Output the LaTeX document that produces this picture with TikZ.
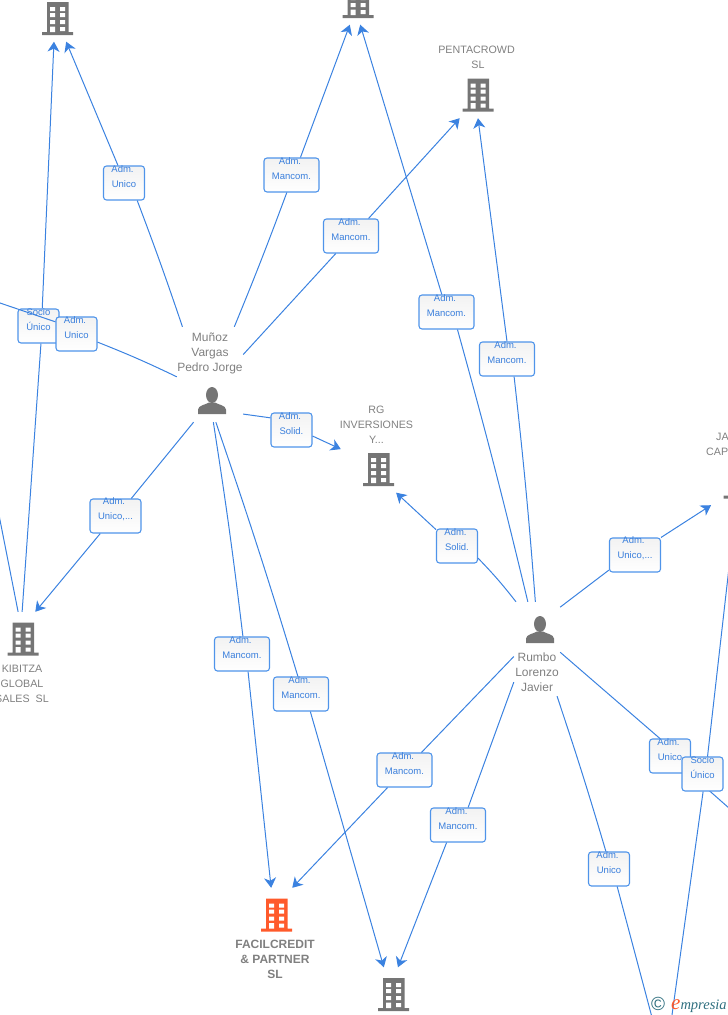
\documentclass[tikz,border=0pt]{standalone}
\usepackage{fontspec}
\setmainfont{Liberation Sans}
\newfontfamily\brandfont{Liberation Serif}
\usetikzlibrary{arrows.meta}

\definecolor{linkblue}{HTML}{3B82E0}
\definecolor{admborder}{HTML}{4F94EA}
\definecolor{admtext}{HTML}{3A7FDC}
\definecolor{nametext}{HTML}{808080}
\definecolor{icongray}{HTML}{757575}
\definecolor{iconorange}{HTML}{FF5A2B}
\definecolor{brandteal}{HTML}{2F6F7F}

\def\admword{Adm.\hspace*{3pt}}

\tikzset{
    link/.style={linkblue, line width=1pt},
    linkto/.style={link, -{Stealth[length=10pt,width=12pt,inset=3pt]}},
    adm/.style={draw=admborder, line width=1.1pt, rounded corners=3pt, top color=black!5, bottom color=white,
        text=admtext, align=center, font=\fontsize{9.5}{15}\selectfont, minimum height=34pt, inner sep=0pt,
        text height=9pt},
    admnarrow/.style={adm, minimum width=41pt},
    admmid/.style={adm, minimum width=51pt},
    admwide/.style={adm, minimum width=55pt},
    hub/.style={minimum width=60pt, minimum height=50pt, inner sep=0pt},
    corpname/.style={text=nametext, align=center, font=\fontsize{10.7}{15}\selectfont, inner sep=0pt},
    personname/.style={text=nametext, align=center, font=\fontsize{12}{15}\selectfont, inner sep=0pt},
    pics/bldg/.style={code={
        \fill[#1] (-10.5,-14.5) rectangle (11,15.5) (-15.5,15.5) rectangle (15.5,18.5);
        \fill[white] (-7.5,-9.5) rectangle (-2.5,-5.5) (2.5,-9.5) rectangle (7.5,-5.5)
            (-7.5,-3.5) rectangle (-2.5,0.5) (2.5,-3.5) rectangle (7.5,0.5)
            (-7.5,3.5) rectangle (-2.5,7.5) (2.5,3.5) rectangle (7.5,7.5)
            (-7.5,10) rectangle (-2.5,15.5) (2.5,10.5) rectangle (7.5,14.5);
    }},
    pics/person/.style={code={
        \fill[icongray] (0,-5.5) ellipse (6 and 8);
        \fill[icongray] (-14,13.5) -- (-14,9) .. controls (-14,5) and (-6,4) .. (-3,2) -- (3,2)
            .. controls (6,4) and (14,5) .. (14,9) -- (14,13.5) -- cycle;
    }}
}

\begin{document}
\begin{tikzpicture}[x=1pt,y=-1pt]
    \useasboundingbox (0,0) rectangle (728,1015);

    %% Companies
    \node [hub] (topleft) at (57.5,16.5) {};
    \node [hub] (topmid) at (358,-0.5) {};
    \node [hub] (penta) at (478,93) {};
    \node [hub, minimum width=75pt] (rginv) at (378.5,467.5) {};
    \node [hub] (jacap) at (739,480) {};
    \node [hub] (kibitza) at (23,637) {};
    \node [hub] (facil) at (276.5,913) {};
    \node [hub] (botmid) at (393.5,992.5) {};
    \pic at (topleft) {bldg=icongray};
    \pic at (topmid) {bldg=icongray};
    \pic at (penta) {bldg=icongray};
    \pic at (rginv) {bldg=icongray};
    \pic at (jacap) {bldg=icongray};
    \pic at (kibitza) {bldg=icongray};
    \pic at (facil) {bldg=iconorange};
    \pic at (botmid) {bldg=icongray};
    \node [corpname] (pentaname) at (476.5,57) {PENTACROWD\\\hspace*{3pt}SL};
    \node [corpname] (rgname) at (376.5,424.5) {RG\\INVERSIONES\\Y...};
    \node [corpname, align=left, anchor=west] (janame) at (706,444) {\hspace*{10pt}JA\\CAP};
    \node [corpname] (kibitzaname) at (22,683.5) {KIBITZA\\GLOBAL\\SALES\ \ SL};
    \node [corpname, font=\fontsize{12}{15}\selectfont\bfseries] (facilname) at (275,959) {FACILCREDIT\\\& PARTNER\\SL};

    %% People
    \node [minimum width=66pt, minimum height=95pt, inner sep=0pt] (munoz) at (210,374.5) {};
    \node [minimum width=46pt, minimum height=94pt, inner sep=0pt] (rumbo) at (537,649) {};
    \pic at (212,400.5) {person};
    \pic at (540,629.5) {person};
    \node [personname] (munozname) at (210,353.5) {Muñoz\\Vargas\\Pedro Jorge};
    \node [personname] (rumboname) at (537,672.5) {Rumbo\\Lorenzo\\Javier};

    %% Ends outside the page
    \coordinate (offleft) at (-10,299.6);
    \coordinate (offwest) at (-1,515);
    \coordinate (offeast) at (738,816);
    \coordinate (offnorth) at (731,550);
    \coordinate (offsouth) at (652.7,1020);
    \coordinate (offsouthb) at (671.3,1020);

    %% Muñoz
    \node [admnarrow] (munozcorner) at (124,183) {\admword\\Unico};
    \path [link] (munoz.120) edge [bend right=1] (munozcorner.307);
    \path [linkto] (munozcorner.109) edge (topleft.289);

    \node [admwide] (munoztop) at (291.5,175) {\admword\\Mancom.};
    \path [link] (munoz.63) edge [bend right=1] (munoztop.255);
    \path [linkto] (munoztop.63) edge (topmid.252);

    \node [admwide] (munozpenta) at (351,236) {\admword\\Mancom.};
    \path [link] (munoz.31) edge (munozpenta.229);
    \path [linkto] (munozpenta.45) edge (penta.234);

    \node [admnarrow] (socioleft) at (38.5,326) {Socio\\Único};
    \path [linkto] (socioleft.78) edge (topleft.262);
    \path [link] (socioleft.278) edge (kibitza.92);
    \path [link] (kibitza.101) edge (offwest);

    \node [admnarrow] (munozleft) at (76.5,334) {\admword\\Unico};
    \path [link] (munoz.184) edge [bend right=2] (munozleft);
    \path [link] (munozleft.150) edge (offleft);

    \node [admmid] (munozkib) at (115.5,516) {\admword\\Unico,...};
    \path [link] (munoz.251) edge (munozkib.48);
    \path [linkto] (munozkib.229) edge (kibitza.64);

    \node [admnarrow] (munozrg) at (291.5,430) {\admword\\Solid.};
    \path [link] (munoz.310) edge (munozrg.150);
    \path [linkto] (munozrg.344) edge (rginv.154);

    \node [admwide] (munozfacil) at (242,654) {\admword\\Mancom.};
    \path [link] (munoz.274) edge [bend left=1] (munozfacil.87);
    \path [linkto] (munozfacil.289) edge (facil.102);

    \node [admwide] (munozbot) at (301,694) {\admword\\Mancom.};
    \path [link] (munoz.277) edge [bend left=1] (munozbot.100);
    \path [linkto] (munozbot.298) edge (botmid.111);

    %% Rumbo
    \node [admnarrow] (rumborg) at (457,546) {\admword\\Solid.};
    \path [link] (rumbo.114) edge [bend right=3] (rumborg.330);
    \path [linkto] (rumborg.142) edge (rginv.305);

    \node [admwide] (rumbotop) at (446.5,312) {\admword\\Mancom.};
    \path [link] (rumbo.101) edge [bend right=1] (rumbotop.302);
    \path [linkto] (rumbotop.105) edge (topmid.275);

    \node [admwide] (rumbopenta) at (507,359) {\admword\\Mancom.};
    \path [link] (rumbo.92) edge [bend right=1] (rumbopenta.292);
    \path [linkto] (rumbopenta.90) edge (penta.270);

    \node [admmid] (rumbojacap) at (635,555) {\admword\\Unico,...};
    \path [link] (rumbo.61) edge (rumbojacap.210);
    \path [linkto] (rumbojacap.34) edge (jacap.222);

    \node [admwide] (rumbofacil) at (404.5,770) {\admword\\Mancom.};
    \path [link] (rumbo.198) edge (rumbofacil.46);
    \path [linkto] (rumbofacil.226) edge (facil.58);

    \node [admwide] (rumbobot) at (458,825) {\admword\\Mancom.};
    \path [link] (rumbo.235) edge (rumbobot.60);
    \path [linkto] (rumbobot.237) edge (botmid.80);

    \node [admnarrow] (rumbosouth) at (609,869) {\admword\\Unico};
    \path [link] (rumbo.293) edge [bend left=1] (rumbosouth.100);
    \path [link] (rumbosouth.295) edge (offsouth);

    \node [admnarrow] (rumboeast) at (670,756) {\admword\\Unico};
    \path [link] (rumbo.352) edge (rumboeast.120);
    \path [link] (rumboeast) edge (offeast);

    \node [admnarrow] (socioright) at (702.5,774) {Socio\\Único};
    \path [link] (socioright.74) edge (offnorth);
    \path [link] (socioright.272) edge (offsouthb);

    %% Watermark
    \node [inner sep=0pt, text=brandteal, font=\fontsize{19}{19}\selectfont] (copymark) at (658,1004) {©};
    \node [inner sep=0pt, anchor=base west, text=brandteal, font=\fontsize{14.5}{14.5}\selectfont\brandfont\itshape] (brand) at (671,1009)
        {\textcolor{iconorange}{\fontsize{21}{21}\selectfont e}mpresia};
\end{tikzpicture}
\end{document}
